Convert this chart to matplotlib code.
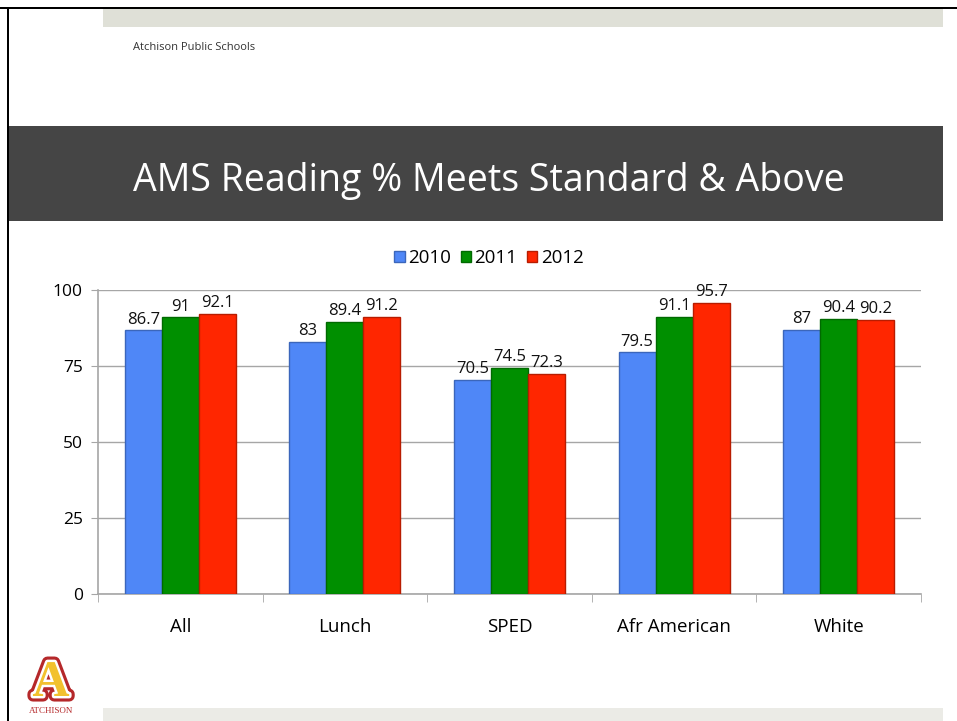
import matplotlib
matplotlib.use("Agg")
import matplotlib.pyplot as plt
import matplotlib.patheffects as pe
from matplotlib.patches import Rectangle
import numpy as np

plt.rcParams['font.family'] = ['Open Sans', 'DejaVu Sans']

categories = ["All", "Lunch", "SPED", "Afr American", "White"]
series_names = ["2010", "2011", "2012"]
v2010 = [86.7, 83, 70.5, 79.5, 87]
v2011 = [91, 89.4, 74.5, 91.1, 90.4]
v2012 = [92.1, 91.2, 72.3, 95.7, 90.2]
labels2010 = ["86.7", "83", "70.5", "79.5", "87"]
labels2011 = ["91", "89.4", "74.5", "91.1", "90.4"]
labels2012 = ["92.1", "91.2", "72.3", "95.7", "90.2"]
yticks = [0, 25, 50, 75, 100]
title = "AMS Reading % Meets Standard & Above"
header = "Atchison Public Schools"

W, H = 957, 721
fig = plt.figure(figsize=(W / 100, H / 100), dpi=100)
fig.patch.set_facecolor("white")

def fx(x):
    return x / W

def fy(y):
    return 1 - y / H

# frame lines and bands
fig.add_artist(Rectangle((fx(0), fy(9)), 1, 2 / H, transform=fig.transFigure, color="black", lw=0))
fig.add_artist(Rectangle((fx(7), 0), 2 / W, fy(7), transform=fig.transFigure, color="black", lw=0))
fig.add_artist(Rectangle((fx(103), fy(27)), fx(840), 18 / H, transform=fig.transFigure, color="#dfe0d7", lw=0))
fig.add_artist(Rectangle((fx(103), 0), fx(840), 13 / H, transform=fig.transFigure, color="#ebebe6", lw=0))
fig.add_artist(Rectangle((fx(9), fy(221)), fx(934), 95 / H, transform=fig.transFigure, color="#454545", lw=0))

fig.text(fx(133), fy(47), header, fontsize=8, color="#333333", va="center", ha="left")
fig.text(fx(489), fy(181), title, fontsize=27, color="white", va="center", ha="center")

# logo
fig.text(fx(51), fy(684), "A", fontsize=37, family="Liberation Serif", weight="bold",
         color="#f2c12e", ha="center", va="center",
         path_effects=[pe.Stroke(linewidth=8, foreground="#b5282a"),
                       pe.Stroke(linewidth=3.5, foreground="white"),
                       pe.Normal()])
fig.text(fx(51), fy(711), "ATCHISON", fontsize=6.5, family="Liberation Serif",
         color="#b5282a", ha="center", va="center")

ax = fig.add_axes([fx(98), fy(594), fx(823), 304 / H])
colors = ["#4f87f7", "#008f00", "#ff2600"]
edges = ["#3b66bb", "#006a00", "#b81c00"]
vals = [v2010, v2011, v2012]
labs = [labels2010, labels2011, labels2012]
x = np.arange(len(categories)) + 0.5
bw = 0.225
for i in range(3):
    pos = x + (i - 1) * bw
    bars = ax.bar(pos, vals[i], width=bw, color=colors[i], edgecolor=edges[i],
                  linewidth=1.0, label=series_names[i], zorder=3)
    for p, v, t in zip(pos, vals[i], labs[i]):
        ax.text(p, v + 0.9, t, ha="center", va="bottom", fontsize=12, color="#111111", zorder=4)

ax.set_xlim(0, 5)
ax.set_ylim(0, 100)
ax.set_yticks(yticks)
ax.set_yticklabels([str(t) for t in yticks], fontsize=12.5)
ax.set_xticks(x)
ax.set_xticklabels(categories, fontsize=13.5)
ax.set_xticks(np.arange(0, 6), minor=True)
ax.tick_params(axis="x", which="major", length=0, pad=17)
ax.tick_params(axis="x", which="minor", length=6, color="#a6a6a6", direction="out")
ax.tick_params(axis="y", length=5, color="#a6a6a6", pad=6)
ax.yaxis.grid(True, color="#a6a6a6", lw=1, zorder=0)
ax.set_axisbelow(True)
for s in ["top", "right"]:
    ax.spines[s].set_visible(False)
for s in ["left", "bottom"]:
    ax.spines[s].set_color("#a6a6a6")
    ax.spines[s].set_linewidth(1.2)

leg = ax.legend(loc="center", bbox_to_anchor=(0.475, 1 + 32 / 304), ncol=3, frameon=False,
                handlelength=0.55, handleheight=0.55, handletextpad=0.2, columnspacing=0.5,
                fontsize=13.5)

fig.savefig("out.png", dpi=100)
